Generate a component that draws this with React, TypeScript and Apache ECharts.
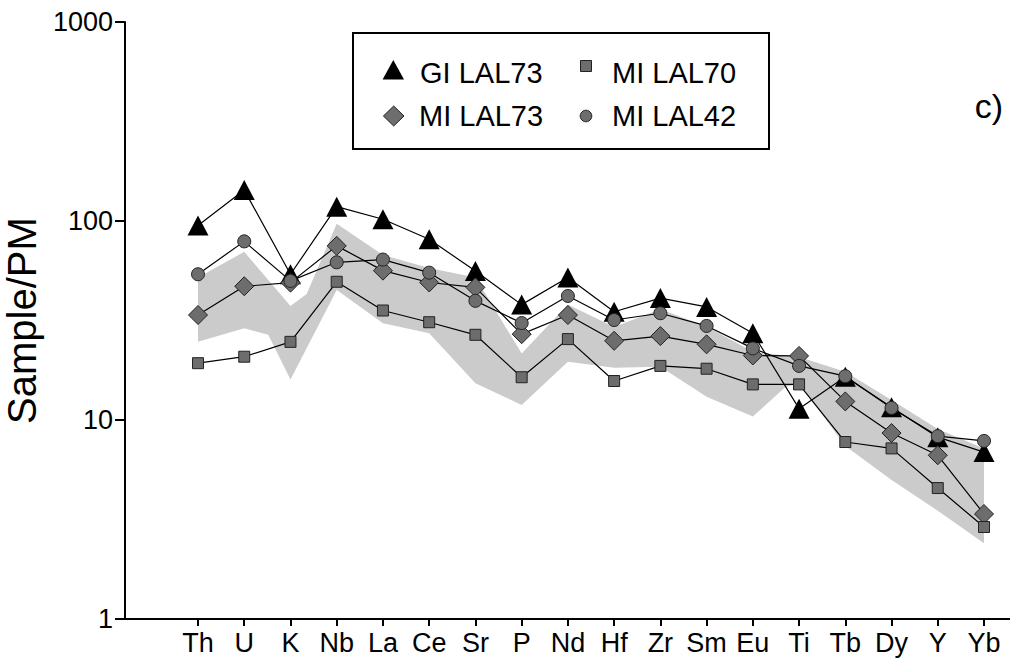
import React, { useEffect, useRef } from "react";
import * as echarts from "echarts";

// Trace elements, primitive-mantle normalised
const elements = ["Th", "U", "K", "Nb", "La", "Ce", "Sr", "P", "Nd", "Hf", "Zr", "Sm", "Eu", "Ti", "Tb", "Dy", "Y", "Yb"];

const glLAL73 = [95, 143, 54, 118, 102, 81, 56, 38, 52, 35, 41, 37, 27.3, 11.4, 16.5, 11.6, 8.2, 6.9];
const miLAL70 = [19.3, 20.8, 24.7, 49.5, 35.5, 31, 26.8, 16.4, 25.5, 15.7, 18.7, 18.1, 15.1, 15.1, 7.75, 7.2, 4.55, 2.9];
const miLAL73 = [33.7, 47, 49, 75, 56.3, 49.1, 46.4, 27, 33.7, 25, 26.4, 24, 21.1, 21, 12.4, 8.6, 6.65, 3.37];
const miLAL42 = [54, 79, 50, 62, 64, 55, 39.7, 30.7, 42, 31.8, 34.4, 29.7, 22.9, 18.7, 16.6, 11.5, 8.3, 7.85];

// Shaded compositional field: [element position, value]
const fieldUpper = [
  [0, 52], [1, 70], [2, 37.4], [2.35, 43], [3, 97], [4, 67.5], [5, 58], [6, 52], [7, 21.6], [8, 38],
  [9, 29.3], [10, 36], [11, 29.5], [12, 22], [13, 20.7], [14, 17.5], [15, 12.6], [16, 9], [17, 7.2],
];
const fieldLower = [
  [0, 24.7], [1, 28.9], [1.52, 26.8], [2, 16], [3, 45], [4, 30.6], [5, 27.3], [6, 15.3], [7, 11.9], [8, 19.6],
  [9, 18.3], [10, 18.5], [11, 13.1], [12, 10.4], [12.7, 14.6], [13, 15.3], [14, 7.4], [15, 5], [16, 3.5], [17, 2.4],
];

const yTicks = [1, 10, 100, 1000];
const FONT = "'Liberation Sans', Arial, sans-serif";
const GREY = "#6d6d6d";
const EDGE = "#222222";

export default function App() {
  const ref = useRef<HTMLDivElement>(null);

  useEffect(() => {
    if (!ref.current) return;
    const chart = echarts.init(ref.current, null, { renderer: "svg" });

    const toPairs = (arr: number[]) => arr.map((v, i) => [i, v]);
    const fieldPolygon = [...fieldUpper, ...fieldLower.slice().reverse()];

    const lineSeries = (name: string, data: number[], symbol: string, size: any, fill: string, border: number) => ({
      type: "line",
      name,
      data: toPairs(data),
      symbol,
      symbolSize: size,
      showAllSymbol: true,
      silent: true,
      itemStyle: { color: fill, borderColor: EDGE, borderWidth: border, opacity: 1 },
      lineStyle: { color: "#000", width: 1.2 },
      emphasis: { disabled: true },
      z: 3,
    });

    const option: any = {
      animation: false,
      textStyle: { fontFamily: FONT },
      grid: { left: 125, right: 0, top: 22, bottom: 42, containLabel: false, outerBoundsMode: "none" },
      xAxis: {
        type: "value",
        min: -1.579,
        max: 17.562,
        axisLine: { onZero: false, lineStyle: { color: "#000", width: 2 } },
        axisTick: { show: true, length: 7, lineStyle: { color: "#000", width: 2 }, customValues: elements.map((_, i) => i) },
        axisLabel: {
          customValues: elements.map((_, i) => i),
          formatter: (v: number) => elements[Math.round(v)] ?? "",
          color: "#000",
          fontSize: 27,
          fontFamily: FONT,
          margin: 10,
        },
        splitLine: { show: false },
      },
      yAxis: {
        type: "log",
        logBase: 10,
        min: yTicks[0],
        max: yTicks[yTicks.length - 1],
        name: "Sample/PM",
        nameLocation: "middle",
        nameRotate: 90,
        nameGap: 73,
        nameTextStyle: { fontSize: 40, color: "#000", fontFamily: FONT },
        axisLine: { show: true, onZero: false, lineStyle: { color: "#000", width: 2 } },
        axisTick: { show: true, length: 10, lineStyle: { color: "#000", width: 2 } },
        axisLabel: {
          color: "#000",
          fontSize: 27,
          fontFamily: FONT,
          margin: 12,
          formatter: (v: number) => String(Math.round(v)),
        },
        minorTick: { show: false },
        splitLine: { show: false },
      },
      series: [
        {
          type: "custom",
          name: "field",
          silent: true,
          data: [[0, 10]],
          z: 1,
          renderItem: (_params: any, api: any) => ({
            type: "polygon",
            shape: { points: fieldPolygon.map((p) => api.coord(p)) },
            style: { fill: "#cbcbcb", stroke: "none" },
          }),
        },
        lineSeries("GI LAL73", glLAL73, "triangle", [21, 20], "#000", 0),
        lineSeries("MI LAL73", miLAL73, "diamond", [19, 19], GREY, 1),
        lineSeries("MI LAL70", miLAL70, "rect", [11, 11], GREY, 1),
        lineSeries("MI LAL42", miLAL42, "circle", [13, 13], GREY, 1),
      ],
      graphic: [
        {
          type: "rect",
          shape: { x: 353, y: 33, width: 416, height: 116 },
          style: { fill: "#fff", stroke: "#000", lineWidth: 2 },
          z: 10,
        },
        {
          type: "polygon",
          shape: { points: [[393.3, 60], [382.6, 79.5], [404, 79.5]] },
          style: { fill: "#000" },
          z: 11,
        },
        {
          type: "text",
          style: { text: "GI LAL73", x: 420, y: 72.5, fontSize: 29, fontFamily: FONT, fill: "#000", verticalAlign: "middle" },
          z: 11,
        },
        {
          type: "rect",
          shape: { x: 580.5, y: 60.5, width: 11, height: 11 },
          style: { fill: GREY, stroke: EDGE, lineWidth: 1 },
          z: 11,
        },
        {
          type: "text",
          style: { text: "MI LAL70", x: 612, y: 72.5, fontSize: 29, fontFamily: FONT, fill: "#000", verticalAlign: "middle" },
          z: 11,
        },
        {
          type: "polygon",
          shape: { points: [[393.7, 106], [404, 116], [393.7, 126], [383.4, 116]] },
          style: { fill: GREY, stroke: EDGE, lineWidth: 1 },
          z: 11,
        },
        {
          type: "text",
          style: { text: "MI LAL73", x: 419, y: 116, fontSize: 29, fontFamily: FONT, fill: "#000", verticalAlign: "middle" },
          z: 11,
        },
        {
          type: "circle",
          shape: { cx: 586, cy: 116, r: 5.8 },
          style: { fill: GREY, stroke: EDGE, lineWidth: 1 },
          z: 11,
        },
        {
          type: "text",
          style: { text: "MI LAL42", x: 612, y: 116, fontSize: 29, fontFamily: FONT, fill: "#000", verticalAlign: "middle" },
          z: 11,
        },
        {
          type: "text",
          style: { text: "c)", x: 1003, y: 106, fontSize: 34, fontFamily: FONT, fill: "#000", align: "right", verticalAlign: "middle" },
          z: 11,
        },
      ],
    };

    chart.setOption(option);
    return () => chart.dispose();
  }, []);

  return <div ref={ref} style={{ position: "fixed", left: 0, top: 0, width: 1010, height: 661, background: "#fff" }} />;
}
